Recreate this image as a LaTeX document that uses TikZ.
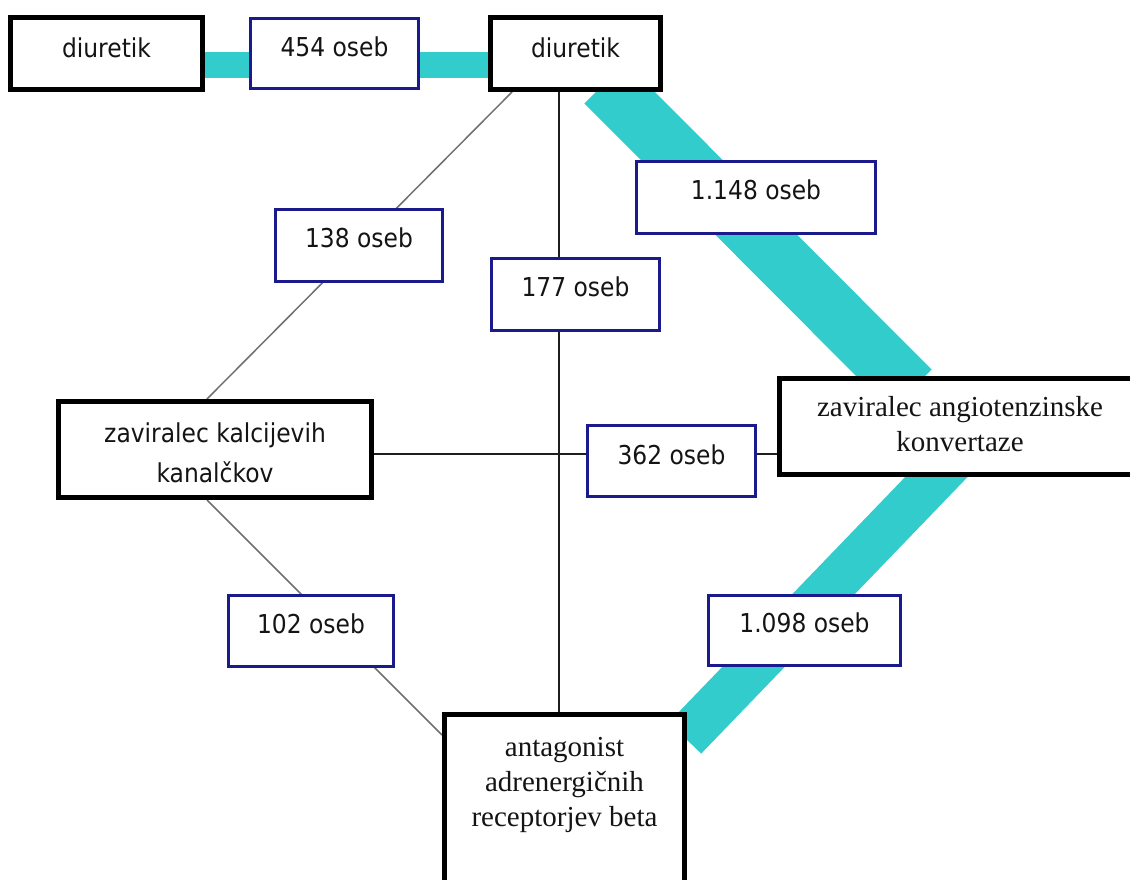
\documentclass[tikz,border=0pt]{standalone}
\usepackage{fontspec}
\newfontfamily\lblfont[FakeStretch=0.9]{DejaVu Sans}
\newfontfamily\serfont{Liberation Serif}
\definecolor{bandteal}{RGB}{51,204,204}
\definecolor{boxnavy}{RGB}{26,26,140}
\definecolor{inkc}{RGB}{20,20,20}
\definecolor{linkgray}{RGB}{112,112,112}
\definecolor{linkdark}{RGB}{30,30,30}
\pgfdeclarelayer{paper}
\pgfdeclarelayer{bg}
\pgfsetlayers{paper,bg,main}
\begin{document}
\begin{tikzpicture}[x=1pt,y=-1pt,
  classbox/.style={draw=black,line width=5pt,fill=white,inner sep=0pt},
  countbox/.style={draw=boxnavy,line width=3pt,fill=white,inner sep=0pt},
  sanstext/.style={font=\lblfont\fontsize{26}{40}\selectfont,text=inkc,inner sep=0pt,align=center},
  seriftext/.style={font=\serfont\fontsize{29}{35}\selectfont,text=inkc,inner sep=0pt,align=center},
  band/.style={draw=bandteal,line width=#1,line cap=butt},
  graylink/.style={draw=linkgray,line width=1.5pt},
  darklink/.style={draw=linkdark,line width=1.5pt}]
\useasboundingbox (0,0) rectangle (1130,880);
\begin{pgfonlayer}{paper}
  \fill[white] (0,0) rectangle (1130,880);
\end{pgfonlayer}
\clip (0,0) rectangle (1130,880);

% drug classes
\node[classbox,minimum width=192pt,minimum height=72pt] (d1) at (106.5,53.5) {};
\node[classbox,minimum width=170pt,minimum height=72pt] (d2) at (575.5,53.5) {};
\node[classbox,minimum width=313pt,minimum height=96pt] (kal) at (215,449.5) {};
\node[classbox,minimum width=361pt,minimum height=96pt] (ace) at (960,426.5) {};
\node[classbox,minimum width=240pt,minimum height=188pt] (ant) at (564.5,808.5) {};

\node[sanstext] (d1t) at (106.5,48) {diuretik};
\node[sanstext] (d2t) at (575.5,48) {diuretik};
\node[sanstext] (kalt) at (215,453) {zaviralec kalcijevih\\kanalčkov};
\node[seriftext] (acet) at (960,424.5) {zaviralec angiotenzinske\\konvertaze};
\node[seriftext] (antt) at (564.5,784.5) {antagonist\\adrenergičnih\\receptorjev beta};

% patient counts
\node[countbox,minimum width=168pt,minimum height=70pt] (c454) at (334.5,53.5) {};
\node[countbox,minimum width=239pt,minimum height=72pt] (c1148) at (756,197.5) {};
\node[countbox,minimum width=167pt,minimum height=72pt] (c138) at (359,245.5) {};
\node[countbox,minimum width=168pt,minimum height=72pt] (c177) at (575.5,294.5) {};
\node[countbox,minimum width=168pt,minimum height=71pt] (c362) at (671.5,461) {};
\node[countbox,minimum width=165pt,minimum height=71pt] (c102) at (311,631) {};
\node[countbox,minimum width=192pt,minimum height=70pt] (c1098) at (804.5,630.5) {};

\node[sanstext] (t454) at (334.5,47) {454 oseb};
\node[sanstext] (t1148) at (756,190) {1.148 oseb};
\node[sanstext] (t138) at (359,238) {138 oseb};
\node[sanstext] (t177) at (575.5,287) {177 oseb};
\node[sanstext] (t362) at (671.5,455) {362 oseb};
\node[sanstext] (t102) at (311,624) {102 oseb};
\node[sanstext] (t1098) at (804.5,623) {1.098 oseb};

% connectors, drawn underneath the boxes
\begin{pgfonlayer}{bg}
  \draw[band=26pt] ([yshift=-11.5pt]d1.center) -- ([yshift=-11.5pt]d2.center);
  \draw[band=58pt] ([shift={(117pt,9pt)}]d2.south west) -- ([shift={(134pt,-14pt)}]ace.north west);
  \draw[band=45pt] ([shift={(195pt,37pt)}]ace.south west) -- ([shift={(-2pt,-26pt)}]ant.north east);
  \draw[graylink] ([xshift=24pt]d2.south west) -- ([xshift=151pt]kal.north west);
  \draw[graylink] ([xshift=151pt]kal.south west) -- ([yshift=-23pt]ant.north west);
  \draw[darklink] ([xshift=71pt]d2.south west) coordinate (vtop) -- (vtop |- ant.north);
  \draw[darklink] ([yshift=-4.5pt]kal.east) coordinate (hleft) -- (hleft -| ace.west);
\end{pgfonlayer}
\end{tikzpicture}
\end{document}
